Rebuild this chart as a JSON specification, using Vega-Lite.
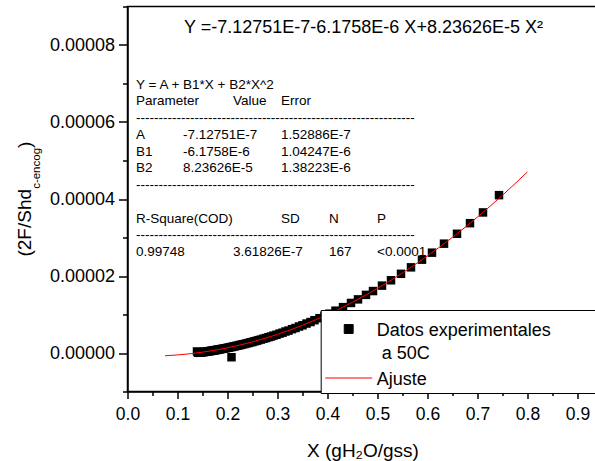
{
 "$schema": "https://vega.github.io/schema/vega-lite/v6.json",
 "width": 470, "height": 385,
 "autosize": {"type": "none"},
 "padding": {"left": 127.5, "top": 6.5, "right": 0, "bottom": 70},
 "config": {
   "font": "Liberation Sans",
   "view": {"stroke": "black", "strokeWidth": 1.5},
   "axis": {"grid": false, "domainColor": "black", "domainWidth": 1.5, "tickColor": "black", "tickWidth": 1.5, "labelColor": "black", "labelFont": "Liberation Sans", "labelFontSize": 17.5, "titleColor": "black", "titleFont": "Liberation Sans", "titleFontWeight": "normal", "labelOverlap": false, "labelFlush": false},
   "text": {"font": "Liberation Sans", "color": "black", "align": "left", "baseline": "alphabetic", "fontSize": 13.5, "lineHeight": 16.7}
 },
 "resolve": {"axis": {"x": "independent", "y": "independent"}},
 "layer": [
  {
   "data": {"values": [{"x":0.139,"y":4.0e-7},{"x":0.141,"y":5e-8},{"x":0.142,"y":1.0e-7},{"x":0.144,"y":8e-8},{"x":0.146,"y":1.6e-7},{"x":0.148,"y":1.5e-7},{"x":0.150,"y":2.4e-7},{"x":0.152,"y":2.2e-7},{"x":0.154,"y":3.1e-7},{"x":0.156,"y":3.0e-7},{"x":0.158,"y":3.9e-7},{"x":0.160,"y":3.8e-7},{"x":0.162,"y":4.7e-7},{"x":0.164,"y":4.6e-7},{"x":0.166,"y":5.5e-7},{"x":0.168,"y":5.5e-7},{"x":0.170,"y":6.4e-7},{"x":0.172,"y":6.3e-7},{"x":0.174,"y":7.3e-7},{"x":0.176,"y":7.2e-7},{"x":0.178,"y":8.2e-7},{"x":0.180,"y":8.2e-7},{"x":0.182,"y":9.1e-7},{"x":0.185,"y":9.4e-7},{"x":0.188,"y":1.06e-6},{"x":0.191,"y":1.09e-6},{"x":0.194,"y":1.21e-6},{"x":0.197,"y":1.24e-6},{"x":0.200,"y":1.37e-6},{"x":0.203,"y":1.40e-6},{"x":0.206,"y":1.53e-6},{"x":0.208,"y":-1.10e-6},{"x":0.209,"y":1.57e-6},{"x":0.212,"y":1.70e-6},{"x":0.215,"y":1.74e-6},{"x":0.218,"y":1.88e-6},{"x":0.221,"y":1.92e-6},{"x":0.224,"y":2.06e-6},{"x":0.227,"y":2.11e-6},{"x":0.230,"y":2.25e-6},{"x":0.234,"y":2.33e-6},{"x":0.238,"y":2.50e-6},{"x":0.242,"y":2.60e-6},{"x":0.246,"y":2.77e-6},{"x":0.250,"y":2.87e-6},{"x":0.254,"y":3.05e-6},{"x":0.258,"y":3.16e-6},{"x":0.262,"y":3.34e-6},{"x":0.267,"y":3.49e-6},{"x":0.272,"y":3.72e-6},{"x":0.277,"y":3.88e-6},{"x":0.282,"y":4.11e-6},{"x":0.287,"y":4.28e-6},{"x":0.292,"y":4.52e-6},{"x":0.298,"y":4.74e-6},{"x":0.304,"y":5.04e-6},{"x":0.310,"y":5.27e-6},{"x":0.316,"y":5.58e-6},{"x":0.322,"y":5.82e-6},{"x":0.329,"y":6.19e-6},{"x":0.336,"y":6.49e-6},{"x":0.343,"y":6.88e-6},{"x":0.350,"y":7.20e-6},{"x":0.358,"y":7.65e-6},{"x":0.366,"y":8.04e-6},{"x":0.374,"y":8.52e-6},{"x":0.384,"y":9.04e-6},{"x":0.394,"y":9.66e-6},{"x":0.404,"y":1.022e-5},{"x":0.416,"y":1.099e-5},{"x":0.431,"y":1.191e-5},{"x":0.447,"y":1.300e-5},{"x":0.461,"y":1.393e-5},{"x":0.477,"y":1.510e-5},{"x":0.491,"y":1.609e-5},{"x":0.509,"y":1.750e-5},{"x":0.527,"y":1.889e-5},{"x":0.547,"y":2.057e-5},{"x":0.567,"y":2.225e-5},{"x":0.589,"y":2.424e-5},{"x":0.609,"y":2.606e-5},{"x":0.633,"y":2.840e-5},{"x":0.659,"y":3.097e-5},{"x":0.685,"y":3.372e-5},{"x":0.711,"y":3.651e-5},{"x":0.743,"y":4.100e-5}]},
   "mark": {"type": "point", "shape": "square", "filled": true, "size": 72, "opacity": 1},
   "encoding": {
     "x": {"field": "x", "type": "quantitative",
       "scale": {"domain": [0, 0.94], "nice": false, "zero": false},
       "axis": {"orient": "bottom", "values": [0,0.1,0.2,0.3,0.4,0.5,0.6,0.7,0.8,0.9], "format": ".1f",
         "tickSize": 7, "labelPadding": 7, "title": "X (gH₂O/gss)", "titleFontSize": 19, "titlePadding": 18}},
     "y": {"field": "y", "type": "quantitative",
       "scale": {"domain": [-0.00001, 0.00009], "nice": false, "zero": false},
       "axis": {"orient": "left", "values": [0,0.00002,0.00004,0.00006,0.00008], "format": ".5f",
         "tickSize": 9, "labelPadding": 4, "labelFontSize": 18, "title": null}},
     "color": {"datum": "Datos experimentales a 50C", "type": "nominal",
       "scale": {"domain": ["Datos experimentales a 50C", "Ajuste"], "range": ["black", "red"]},
       "legend": {"orient": "none", "legendX": 193.2, "legendY": 303.5, "title": null,
         "strokeColor": "black", "fillColor": "white", "padding": 4,
         "labelFont": "Liberation Sans", "labelFontSize": 18, "labelColor": "black", "labelLimit": 500,
         "labelBaseline": "alphabetic",
         "labelExpr": "datum.value == 'Ajuste' ? 'Ajuste' : ['Datos experimentales          \u200b', '\u200b a 50C']",
         "symbolSize": 2209, "symbolOffset": 0, "labelOffset": 4, "rowPadding": 0, "symbolStrokeWidth": 1,
         "encoding": {
           "symbols": {
             "shape": {"condition": {"test": "datum.value == 'Ajuste'", "value": "stroke"}, "value": "M-0.19,-0.19H0.19V0.19H-0.19Z"},
             "fill": {"condition": {"test": "datum.value == 'Ajuste'", "value": "transparent"}, "value": "black"},
             "stroke": {"condition": {"test": "datum.value == 'Ajuste'", "value": "red"}, "value": "transparent"},
             "strokeWidth": {"value": 1},
             "opacity": {"value": 1},
             "y": {"value": 15}
           },
           "labels": {"dy": {"value": 6.5}, "lineHeight": {"value": 23}, "y": {"value": 15}}
         }}}
   }
  },
  {
   "data": {"values": [{"x":0.075,"y":-7.13e-7},{"x":0.1,"y":-5.07e-7},{"x":0.125,"y":-1.98e-7},{"x":0.15,"y":2.14e-7},{"x":0.175,"y":7.29e-7},{"x":0.2,"y":1.347e-6},{"x":0.225,"y":2.067e-6},{"x":0.25,"y":2.891e-6},{"x":0.275,"y":3.818e-6},{"x":0.3,"y":4.847e-6},{"x":0.325,"y":5.980e-6},{"x":0.35,"y":7.215e-6},{"x":0.375,"y":8.554e-6},{"x":0.4,"y":9.995e-6},{"x":0.425,"y":1.1539e-5},{"x":0.45,"y":1.3187e-5},{"x":0.475,"y":1.4937e-5},{"x":0.5,"y":1.679e-5},{"x":0.525,"y":1.8746e-5},{"x":0.55,"y":2.0805e-5},{"x":0.575,"y":2.2967e-5},{"x":0.6,"y":2.5232e-5},{"x":0.625,"y":2.76e-5},{"x":0.65,"y":3.0071e-5},{"x":0.675,"y":3.2645e-5},{"x":0.7,"y":3.5322e-5},{"x":0.725,"y":3.8102e-5},{"x":0.75,"y":4.0984e-5},{"x":0.775,"y":4.397e-5},{"x":0.8,"y":4.7059e-5}]},
   "mark": {"type": "line", "strokeWidth": 1},
   "encoding": {
     "x": {"field": "x", "type": "quantitative",
       "axis": {"orient": "bottom", "values": [0.05,0.15,0.25,0.35,0.45,0.55,0.65,0.75,0.85], "tickSize": 4, "labels": false, "domain": false, "title": null}},
     "y": {"field": "y", "type": "quantitative",
       "axis": {"orient": "left", "values": [-0.00001,0.00001,0.00003,0.00005,0.00007,0.00009], "tickSize": 5, "labels": false, "domain": false, "title": null}},
     "color": {"datum": "Ajuste", "type": "nominal"}
   }
  },
  {
   "data": {"values": [{}]},
   "mark": {"type": "text", "align": "center", "fontSize": 18},
   "encoding": {"x": {"datum": 0.472, "type": "quantitative", "axis": null}, "y": {"datum": 8.307e-5, "type": "quantitative", "axis": null},
     "text": {"value": "Y =-7.12751E-7-6.1758E-6 X+8.23626E-5 X²"}}
  },
  {
   "data": {"values": [{}]},
   "mark": {"type": "text"},
   "encoding": {"x": {"datum": 0.017, "type": "quantitative", "axis": null}, "y": {"datum": 6.863e-5, "type": "quantitative", "axis": null},
     "text": {"value": ["Y = A + B1*X + B2*X^2", "Parameter", "--------------------------------------------------------------", "A", "B1", "B2", "--------------------------------------------------------------"]}}
  },
  {
   "data": {"values": [{}]},
   "mark": {"type": "text"},
   "encoding": {"x": {"datum": 0.017, "type": "quantitative", "axis": null}, "y": {"datum": 3.389e-5, "type": "quantitative", "axis": null},
     "text": {"value": ["R-Square(COD)", "--------------------------------------------------------------", "0.99748"]}}
  },
  {
   "data": {"values": [{}]},
   "mark": {"type": "text"},
   "encoding": {"x": {"datum": 0.111, "type": "quantitative", "axis": null}, "y": {"datum": 5.560e-5, "type": "quantitative", "axis": null},
     "text": {"value": ["-7.12751E-7", "-6.1758E-6", "8.23626E-5"]}}
  },
  {
   "data": {"values": [{}]},
   "mark": {"type": "text"},
   "encoding": {"x": {"datum": 0.211, "type": "quantitative", "axis": null}, "y": {"datum": 6.429e-5, "type": "quantitative", "axis": null},
     "text": {"value": "Value"}}
  },
  {
   "data": {"values": [{}]},
   "mark": {"type": "text"},
   "encoding": {"x": {"datum": 0.211, "type": "quantitative", "axis": null}, "y": {"datum": 2.520e-5, "type": "quantitative", "axis": null},
     "text": {"value": "3.61826E-7"}}
  },
  {
   "data": {"values": [{}]},
   "mark": {"type": "text"},
   "encoding": {"x": {"datum": 0.307, "type": "quantitative", "axis": null}, "y": {"datum": 6.429e-5, "type": "quantitative", "axis": null},
     "text": {"value": "Error"}}
  },
  {
   "data": {"values": [{}]},
   "mark": {"type": "text"},
   "encoding": {"x": {"datum": 0.307, "type": "quantitative", "axis": null}, "y": {"datum": 5.560e-5, "type": "quantitative", "axis": null},
     "text": {"value": ["1.52886E-7", "1.04247E-6", "1.38223E-6"]}}
  },
  {
   "data": {"values": [{}]},
   "mark": {"type": "text"},
   "encoding": {"x": {"datum": 0.307, "type": "quantitative", "axis": null}, "y": {"datum": 3.389e-5, "type": "quantitative", "axis": null},
     "text": {"value": "SD"}}
  },
  {
   "data": {"values": [{}]},
   "mark": {"type": "text"},
   "encoding": {"x": {"datum": 0.403, "type": "quantitative", "axis": null}, "y": {"datum": 3.389e-5, "type": "quantitative", "axis": null},
     "text": {"value": "N"}}
  },
  {
   "data": {"values": [{}]},
   "mark": {"type": "text"},
   "encoding": {"x": {"datum": 0.403, "type": "quantitative", "axis": null}, "y": {"datum": 2.520e-5, "type": "quantitative", "axis": null},
     "text": {"value": "167"}}
  },
  {
   "data": {"values": [{}]},
   "mark": {"type": "text"},
   "encoding": {"x": {"datum": 0.499, "type": "quantitative", "axis": null}, "y": {"datum": 3.389e-5, "type": "quantitative", "axis": null},
     "text": {"value": "P"}}
  },
  {
   "data": {"values": [{}]},
   "mark": {"type": "text"},
   "encoding": {"x": {"datum": 0.499, "type": "quantitative", "axis": null}, "y": {"datum": 2.520e-5, "type": "quantitative", "axis": null},
     "text": {"value": "<0.0001"}}
  },
  {
   "data": {"values": [{}]},
   "mark": {"type": "text", "fontSize": 19, "angle": 270},
   "encoding": {"x": {"datum": -0.194, "type": "quantitative", "axis": null}, "y": {"datum": 2.505e-5, "type": "quantitative", "axis": null},
     "text": {"value": "(2F/Shd"}}
  },
  {
   "data": {"values": [{}]},
   "mark": {"type": "text", "fontSize": 11.5, "angle": 270},
   "encoding": {"x": {"datum": -0.175, "type": "quantitative", "axis": null}, "y": {"datum": 4.263e-5, "type": "quantitative", "axis": null},
     "text": {"value": "c-encog"}}
  },
  {
   "data": {"values": [{}]},
   "mark": {"type": "text", "fontSize": 19, "angle": 270},
   "encoding": {"x": {"datum": -0.194, "type": "quantitative", "axis": null}, "y": {"datum": 5.326e-5, "type": "quantitative", "axis": null},
     "text": {"value": ")"}}
  }
 ]
}
